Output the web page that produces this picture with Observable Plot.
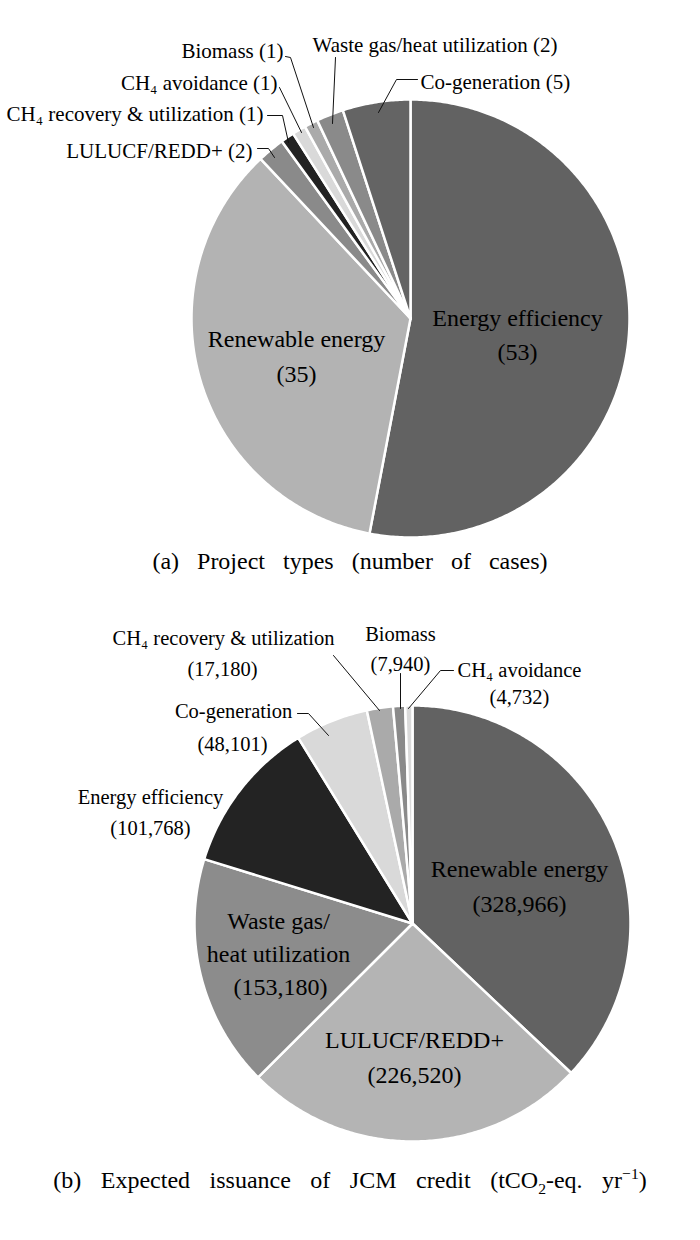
<!DOCTYPE html>
<html><head><meta charset="utf-8">
<script src="https://cdn.jsdelivr.net/npm/d3@7"></script>
<script src="https://cdn.jsdelivr.net/npm/@observablehq/plot@0.6"></script>
<style>
body{margin:0;background:#fff;width:700px;height:1240px;position:relative;overflow:hidden;font-family:"Liberation Serif","DejaVu Serif",serif;color:#000;}
.chart{position:absolute;left:0;}
.cap{position:absolute;left:0;width:700px;text-align:center;font-size:24px;line-height:30px;word-spacing:12px;}
.cap sub,.cap sup{font-size:0.65em;line-height:0;}
</style></head><body>
<div class="chart" id="pa" style="top:0px"></div>
<div class="cap" style="top:546px">(a) Project types (number of cases)</div>
<div class="chart" id="pb" style="top:590px"></div>
<div class="cap" style="top:1165px;word-spacing:13.5px">(b) Expected issuance of JCM credit (tCO<sub>2</sub>-eq. yr<sup>−1</sup>)</div>
<script>
// ---- data ----
const typesA = ["Energy efficiency", "Renewable energy", "LULUCF/REDD+", "CH₄ recovery & utilization", "CH₄ avoidance", "Biomass", "Waste gas/heat utilization", "Co-generation"];
const casesA = [53, 35, 2, 1, 1, 1, 2, 5];
const typesB = ["Renewable energy", "LULUCF/REDD+", "Waste gas/heat utilization", "Energy efficiency", "Co-generation", "CH₄ recovery & utilization", "Biomass", "CH₄ avoidance"];
const creditsB = [328966, 226520, 153180, 101768, 48101, 17180, 7940, 4732];

// ---- styles ----
const colorsA = ["#626262", "#b3b3b3", "#8a8a8a", "#222222", "#d9d9d9", "#aaaaaa", "#8a8a8a", "#646464"];
const colorsB = ["#626262", "#b4b4b4", "#8c8c8c", "#232323", "#d9d9d9", "#aaaaaa", "#8a8a8a", "#dadada"];

// ---- layout (page pixel positions of labels / leaders) ----
const layoutA = [
  {form: "two", anchor: "middle", size: 24, at: [[517, 318], [517, 352]]},
  {form: "two", anchor: "middle", size: 24, at: [[296, 339], [296, 374]]},
  {form: "one", anchor: "end", size: 21, at: [[252, 151]], leader: [[257, 148], [268, 148], [274, 157]]},
  {form: "one", anchor: "end", size: 21, at: [[263, 114]], leader: [[267, 115], [282, 115], [288, 142]]},
  {form: "one", anchor: "end", size: 21, at: [[277, 83]], leader: [[279, 87], [301, 132]]},
  {form: "one", anchor: "end", size: 21, at: [[283, 51]], leader: [[285, 56], [290, 57], [313, 127]]},
  {form: "one", anchor: "start", size: 21, at: [[312, 45]], leader: [[335, 57], [332, 123]]},
  {form: "one", anchor: "start", size: 21, at: [[420, 82]], leader: [[417, 79], [396, 79], [378, 112]]}
];
const layoutB = [
  {form: "two", anchor: "middle", size: 24, at: [[519, 869], [519, 904]]},
  {form: "two", anchor: "middle", size: 24, at: [[414, 1040], [414, 1075]]},
  {form: "three", anchor: "middle", size: 24, at: [[278, 921], [278, 954], [280, 987]]},
  {form: "two", anchor: "middle", size: 20.5, at: [[150, 797], [150, 828]]},
  {form: "two", anchor: "middle", size: 20.5, at: [[233, 711], [232, 744]], leader: [[297, 713], [308, 713], [328, 735]]},
  {form: "two", anchor: "middle", size: 20.5, at: [[223, 638], [222, 669]], leader: [[333, 655], [379, 710]]},
  {form: "two", anchor: "middle", size: 20.5, at: [[400, 634], [400, 664]], leader: [[400, 673], [400, 708]]},
  {form: "two", anchor: "middle", size: 20.5, at: [[519, 670], [519, 697]], leader: [[453, 670], [440, 670], [408, 708]]}
];

const fmt = d3.format(",");
const FONT = '"Liberation Serif", "DejaVu Serif", serif';

function pieChart({names, values, colors, layout, cx, cy, r, top, height}) {
  const arcs = d3.pie().sort(null).value(d => d)(values);
  const pts = [];
  arcs.forEach((a, i) => {
    const n = Math.max(2, Math.ceil((a.endAngle - a.startAngle) / 0.01));
    pts.push({k: i, c: colors[i], x: 0, y: 0});
    for (let j = 0; j <= n; j++) {
      const t = a.startAngle + (a.endAngle - a.startAngle) * j / n;
      pts.push({k: i, c: colors[i], x: Math.sin(t), y: Math.cos(t)});
    }
    pts.push({k: i, c: colors[i], x: 0, y: 0});
  });
  const U = ([px, py]) => ({x: (px - cx) / r, y: (cy - py) / r});
  const texts = [], leaders = [];
  layout.forEach((L, i) => {
    const name = names[i], v = values[i];
    let lines;
    if (L.form === "one") lines = [`${name} (${fmt(v)})`];
    else if (L.form === "two") lines = [name, `(${fmt(v)})`];
    else lines = [...name.replace("/", "/\n").split("\n"), `(${fmt(v)})`];
    lines.forEach((t, j) => texts.push({...U(L.at[j]), text: t, anchor: L.anchor, size: L.size}));
    if (L.leader) L.leader.forEach(p => leaders.push({id: i, ...U(p)}));
  });
  const textMarks = [];
  for (const anchor of ["start", "middle", "end"]) for (const size of [20.5, 21, 24]) {
    const sub = texts.filter(d => d.anchor === anchor && d.size === size);
    if (sub.length) textMarks.push(Plot.text(sub, {x: "x", y: "y", text: "text", textAnchor: anchor, lineAnchor: "middle", fontSize: size, fontFamily: FONT, fill: "#000"}));
  }
  return Plot.plot({
    width: 700, height, margin: 0,
    style: {background: "transparent", overflow: "visible"},
    x: {domain: [-1, 1], range: [cx - r, cx + r], axis: null},
    y: {domain: [-1, 1], range: [cy - top + r, cy - top - r], axis: null},
    color: {type: "identity"},
    marks: [
      Plot.line(pts, {x: "x", y: "y", z: "k", fill: "c", stroke: "white", strokeWidth: 2.5, strokeLinejoin: "round", curve: "linear"}),
      Plot.line(leaders, {x: "x", y: "y", z: "id", stroke: "#111", strokeWidth: 1}),
      ...textMarks
    ]
  });
}

document.getElementById("pa").append(pieChart({names: typesA, values: casesA, colors: colorsA, layout: layoutA, cx: 410, cy: 318, r: 219, top: 0, height: 545}));
document.getElementById("pb").append(pieChart({names: typesB, values: creditsB, colors: colorsB, layout: layoutB, cx: 412, cy: 923, r: 218, top: 590, height: 565}));
</script>
</body></html>
